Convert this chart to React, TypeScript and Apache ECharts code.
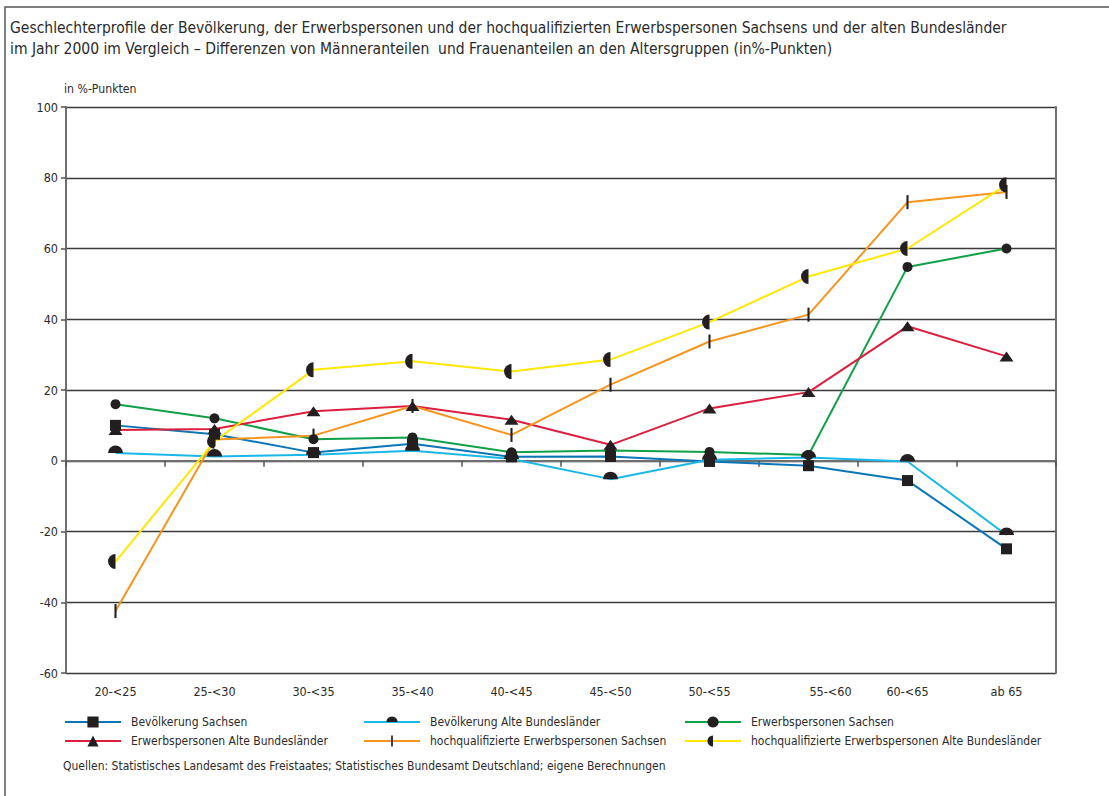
import React, { useEffect, useRef } from "react";
import * as echarts from "echarts";

const categories = ["20-<25", "25-<30", "30-<35", "35-<40", "40-<45", "45-<50", "50-<55", "55-<60", "60-<65", "ab 65"];

const bevSachsen = [10, 7.5, 2.3, 4.8, 1.1, 1.2, -0.2, -1.4, -5.6, -24.9];
const bevAlteBL = [2.2, 1.2, 1.7, 2.8, 0.5, -5.2, 0.3, 0.9, -0.2, -21];
const erwSachsen = [16, 12, 6.1, 6.6, 2.4, 2.9, 2.5, 1.6, 54.8, 60];
const erwAlteBL = [8.7, 9, 14, 15.5, 11.6, 4.5, 14.8, 19.4, 38, 29.5];
const hqSachsen = [-42.5, 6, 7.1, 15.5, 7.3, 21.5, 33.7, 41.3, 73.1, 76];
const hqAlteBL = [-28.5, 5.5, 25.7, 28.1, 25.2, 28.6, 39.2, 52.1, 60, 78];

const seriesNames = [
  "Bevölkerung Sachsen",
  "Bevölkerung Alte Bundesländer",
  "Erwerbspersonen Sachsen",
  "Erwerbspersonen Alte Bundesländer",
  "hochqualifizierte Erwerbspersonen Sachsen",
  "hochqualifizierte Erwerbspersonen Alte Bundesländer",
];

const yTicks = { min: -60, max: 100, interval: 20 };

const titleLines = [
  "Geschlechterprofile der Bevölkerung, der Erwerbspersonen und der hochqualifizierten Erwerbspersonen Sachsens und der alten Bundesländer",
  "im Jahr 2000 im Vergleich – Differenzen von Männeranteilen  und Frauenanteilen an den Altersgruppen (in%-Punkten)",
];
const unitLabel = "in %-Punkten";
const sourceText = "Quellen: Statistisches Landesamt des Freistaates; Statistisches Bundesamt Deutschland; eigene Berechnungen";

const FONT = "'Liberation Sans Narrow', 'DejaVu Sans Condensed', 'Roboto', sans-serif";
const TEXT = "#2b2b2b";
const MARK = "#231f20";

const SYM_DOME = "path://M0,0 M20,20 M0,10 A10,10 0 0 1 20,10 Z";
const SYM_LEFTHALF = "path://M0,0 M20,20 M10,0 A10,10 0 0 0 10,20 Z";
const SYM_BAR = "path://M0,0 M20,20 M8.5,0 L11.5,0 L11.5,20 L8.5,20 Z";

export default function App() {
  const ref = useRef<HTMLDivElement>(null);
  useEffect(() => {
    document.body.style.margin = "0";
    const chart = echarts.init(ref.current!, null, { renderer: "svg" });
    const mk = (name: string, data: number[], color: string, symbol: string, symbolSize: any) => ({
      name,
      type: "line",
      data,
      symbol,
      symbolSize,
      showSymbol: true,
      lineStyle: { color, width: 2 },
      itemStyle: { color: MARK, borderWidth: 0 },
      emphasis: { disabled: true },
    });
    const legendBase = {
      orient: "vertical",
      top: 716,
      padding: 0,
      itemWidth: 56,
      itemHeight: 14,
      itemGap: 7,
      selectedMode: false,
      textStyle: { fontFamily: FONT, fontSize: 12, color: TEXT, padding: [0, 0, 0, 5] },
    };
    chart.setOption({
      animation: false,
      backgroundColor: "#ffffff",
      grid: { left: 66, right: 53, top: 107, bottom: 123 },
      xAxis: {
        type: "category",
        data: categories,
        boundaryGap: true,
        axisLine: { lineStyle: { color: "#6f6f6f", width: 2 } },
        axisTick: { show: true, length: 6, lineStyle: { color: "#555", width: 1.5 } },
        axisLabel: {
          fontFamily: FONT,
          fontSize: 12.5,
          color: TEXT,
          margin: 12,
          formatter: (v: string) => (v === "55-<60" ? "{s|" + v + "}" : v),
          rich: { s: { padding: [0, 0, 0, 44], fontFamily: FONT, fontSize: 12.5, color: TEXT } },
        },
        splitLine: { show: false },
      },
      yAxis: [
        {
          type: "value",
          min: yTicks.min,
          max: yTicks.max,
          interval: yTicks.interval,
          axisLine: { show: true, lineStyle: { color: "#6f6f6f", width: 2 } },
          axisTick: { show: true, length: 5, lineStyle: { color: "#555", width: 1.5 } },
          axisLabel: { fontFamily: FONT, fontSize: 12.5, color: TEXT, margin: 8 },
          splitLine: { show: true, lineStyle: { color: "#3a3a3a", width: 1.3 } },
        },
        {
          type: "value",
          position: "right",
          min: yTicks.min,
          max: yTicks.max,
          interval: yTicks.interval,
          axisLine: { show: true, lineStyle: { color: "#6f6f6f", width: 2 } },
          axisTick: { show: false },
          axisLabel: { show: false },
          splitLine: { show: false },
        },
      ],
      legend: [
        { ...legendBase, left: 64, data: [seriesNames[0], seriesNames[3]] },
        { ...legendBase, left: 363, data: [seriesNames[1], seriesNames[4]] },
        { ...legendBase, left: 684, data: [seriesNames[2], seriesNames[5]] },
      ],
      series: [
        mk(seriesNames[0], bevSachsen, "#0a76b7", "rect", 11),
        mk(seriesNames[1], bevAlteBL, "#1ab7ea", SYM_DOME, 15),
        mk(seriesNames[2], erwSachsen, "#10a048", "circle", 10),
        mk(seriesNames[3], erwAlteBL, "#dc1f3e", "triangle", [14, 10]),
        mk(seriesNames[4], hqSachsen, "#f7941d", SYM_BAR, 14),
        mk(seriesNames[5], hqAlteBL, "#ffe800", SYM_LEFTHALF, 15),
      ],
      graphic: [
        {
          type: "rect",
          shape: { x: 5, y: 7, width: 1120, height: 810 },
          style: { fill: "none", stroke: "#555", lineWidth: 1.5 },
          silent: true,
        },
        {
          type: "text",
          x: 10,
          y: 17,
          style: { text: titleLines.join("\n"), fontFamily: FONT, fontSize: 15.5, lineHeight: 21, fill: TEXT },
        },
        {
          type: "text",
          x: 64,
          y: 83,
          style: { text: unitLabel, fontFamily: FONT, fontSize: 12.2, fill: TEXT },
        },
        {
          type: "text",
          x: 63,
          y: 760,
          style: { text: sourceText, fontFamily: FONT, fontSize: 12, fill: TEXT },
        },
      ],
    });
    return () => chart.dispose();
  }, []);
  return <div ref={ref} style={{ width: 1109, height: 796 }} />;
}
